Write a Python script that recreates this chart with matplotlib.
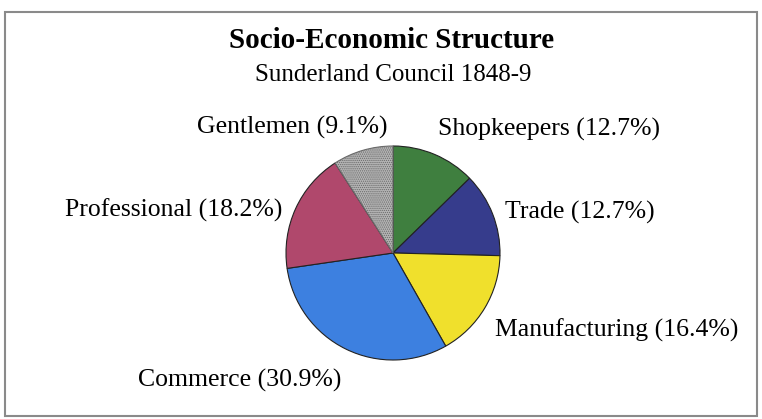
import matplotlib
matplotlib.use("Agg")
import matplotlib.pyplot as plt
from matplotlib.patches import Rectangle

categories = ["Shopkeepers", "Trade", "Manufacturing", "Commerce", "Professional", "Gentlemen"]
values = [12.7, 12.7, 16.4, 30.9, 18.2, 9.1]
colors = ["#3f7f3f", "#363c8c", "#f0e02c", "#3d80e0", "#b0486c", "#b4b4b4"]
label_pos = [(0.42, 1.15, "left"), (1.05, 0.38, "left"), (0.95, -0.72, "left"),
             (-0.48, -1.19, "right"), (-1.03, 0.40, "right"), (-0.05, 1.17, "right")]

plt.rcParams['font.family'] = ['Liberation Serif', 'DejaVu Serif']
plt.rcParams['hatch.linewidth'] = 0.6

fig = plt.figure(figsize=(7.62, 4.19), dpi=100)
fig.patch.set_facecolor("white")
fig.patches.append(Rectangle((5/762, 3/419), 752/762, 404/419, transform=fig.transFigure,
                             fill=False, edgecolor="#8a8a8a", linewidth=1.5))

ax = fig.add_axes([(393-107)/762, (419-253-107)/419, 214/762, 214/419])
wedges, _ = ax.pie(values, colors=colors, startangle=90, counterclock=False,
                   wedgeprops=dict(edgecolor="#222222", linewidth=0.8))
wedges[-1].set_hatch("........")
wedges[-1].set_edgecolor("#6a6a6a")
ax.set_xlim(-1, 1)
ax.set_ylim(-1, 1)
ax.set_aspect("equal")
ax.axis("off")

for cat, val, (x, y, ha) in zip(categories, values, label_pos):
    ax.text(x, y, f"{cat} ({val}%)", ha=ha, va="center", fontsize=18.5, clip_on=False)

fig.text(392/762, 1 - 40/419, "Socio-Economic Structure", ha="center", va="center",
         fontsize=21, fontweight="bold")
fig.text(393/762, 1 - 75/419, "Sunderland Council 1848-9", ha="center", va="center",
         fontsize=18)

fig.savefig("out.png", dpi=100)
